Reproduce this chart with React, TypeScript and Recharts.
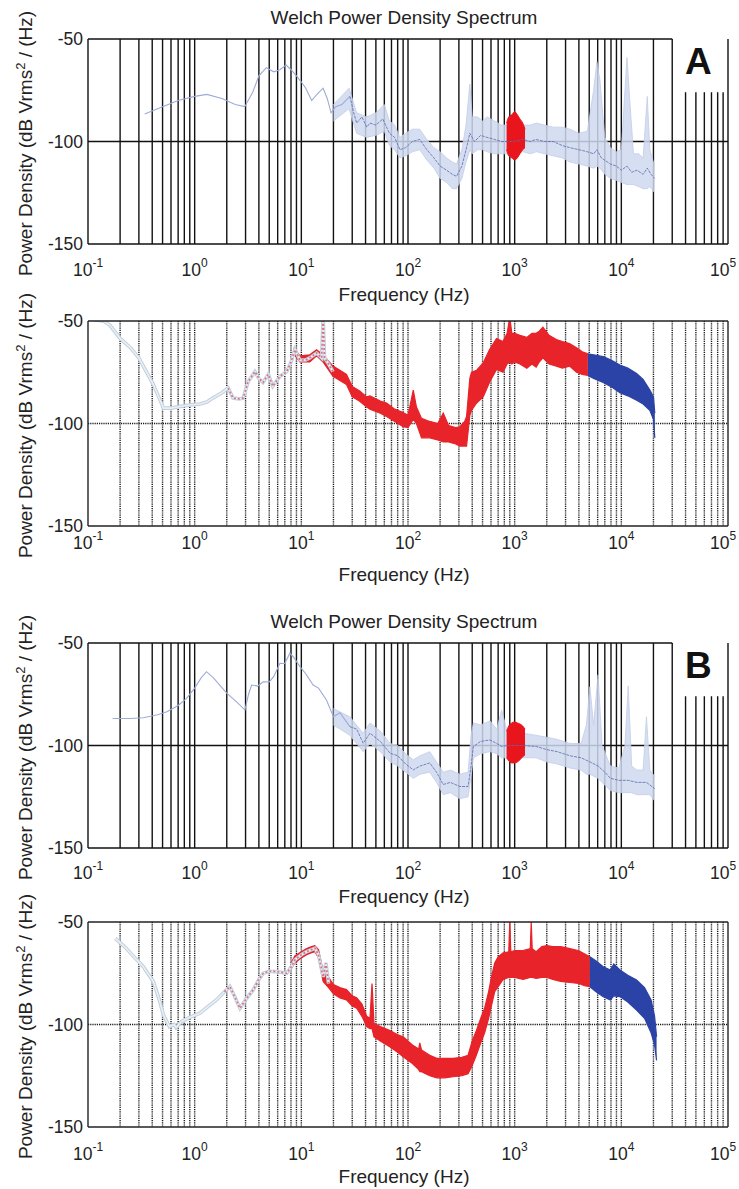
import React from "react";
import {
  ComposedChart,
  Line,
  Area,
  XAxis,
  YAxis,
  CartesianGrid,
  ReferenceLine,
  ReferenceArea,
  Label,
} from "recharts";

type Pt = [number, number];
type Band = [number, number, number];

const FONT = "'Liberation Sans', Arial, sans-serif";

// axis ticks
const decades = [0.1, 1, 10, 100, 1000, 10000, 100000];
const exponents = ["-1", "0", "1", "2", "3", "4", "5"];
const yTicks = [-150, -100, -50];
const multipliers = [1, 2, 3, 4, 5, 6, 7, 8, 9];

// panel A, Welch spectrum: trace [Hz, dB], spread band [Hz, low, high]
const aTopLine: Pt[] = [
  [0.34, -86.6], [0.5, -83], [0.7, -80], [1.0, -78], [1.3, -77], [1.8, -79],
  [2.4, -82], [2.95, -83], [3.5, -76], [4.0, -68], [4.7, -64], [5.5, -66],
  [6.3, -65], [7.2, -62.7], [8.0, -65], [9.0, -68], [10, -71], [11, -74],
  [12.5, -80], [14, -77], [16, -74], [17.5, -79], [19, -86], [21, -83],
  [24, -82], [28.5, -78], [31, -86], [33, -91], [37, -88], [41, -93],
  [44, -91], [50, -92], [58, -89], [67, -96], [75, -98], [84, -104],
  [95, -103], [110, -100], [129, -99], [150, -104], [175, -108], [200, -112],
  [230, -114], [260, -116], [285, -117], [320, -112], [350, -104], [380, -96],
  [420, -100], [480, -97], [550, -98], [650, -99], [750, -100], [850, -100],
  [1000, -100], [1200, -99], [1400, -100], [1580, -99], [1900, -100], [2300, -100],
  [2800, -102], [3300, -103], [4000, -104], [4800, -105], [5500, -106], [5900, -104],
  [6500, -108], [7900, -111], [9000, -112], [10000, -114], [11300, -112], [12500, -115],
  [14000, -114], [16000, -116], [17500, -113], [19000, -116], [20500, -118],
];
const aTopBand: Band[] = [
  [20, -90, -82], [28, -84, -74], [33, -96, -86], [41, -98, -88], [50, -97, -86],
  [60, -95, -82], [67, -102, -90], [75, -104, -92], [84, -108, -98], [95, -107, -96],
  [110, -105, -94], [129, -104, -94], [150, -109, -99], [175, -113, -103], [200, -118, -105],
  [230, -120, -108], [260, -123, -110], [285, -123, -111], [320, -118, -104], [350, -110, -92],
  [380, -104, -72], [400, -106, -88], [450, -104, -88], [500, -104, -90], [550, -105, -88],
  [650, -106, -90], [750, -106, -92], [850, -106, -92], [1000, -106, -94], [1200, -105, -92],
  [1400, -106, -92], [1600, -105, -91], [1900, -106, -92], [2300, -107, -93], [2800, -108, -93],
  [3300, -110, -94], [4000, -111, -96], [4800, -112, -95], [5500, -113, -75], [5900, -112, -61],
  [6300, -113, -70], [7000, -116, -98], [7900, -118, -103], [9000, -119, -105], [10000, -120, -104],
  [11300, -121, -59], [12000, -121, -80], [13000, -121, -106], [14500, -122, -106], [16000, -123, -108],
  [17500, -123, -78], [18500, -122, -104], [20500, -125, -112],
];
const aTopBlob: Band[] = [
  [840, -104, -91], [880, -107, -88], [940, -108, -87], [1000, -109, -85.5],
  [1060, -108, -87], [1120, -106, -89], [1190, -104, -91], [1250, -103, -94],
];

// panel A, detail
const aBotTrace: Pt[] = [
  [0.115, -49.5], [0.14, -50], [0.16, -52], [0.2, -58.5], [0.25, -63], [0.3, -68],
  [0.33, -72], [0.41, -81], [0.46, -87], [0.51, -92.5], [0.6, -92.5], [0.73, -91.7],
  [0.9, -91], [1.12, -90.5], [1.3, -89.5], [1.48, -87.6], [1.8, -85], [2.06, -82.7],
  [2.29, -87.6], [2.6, -88], [2.85, -87.6], [3.17, -79.6], [3.67, -74.7], [4.0, -78],
  [4.37, -80], [4.9, -76], [5.4, -81.8], [5.9, -79], [6.3, -77], [7.3, -74.7],
  [8.0, -70], [8.7, -64], [9.7, -69], [11, -69], [12, -68], [13.9, -65.6],
  [15.5, -68], [16, -48], [16.5, -68], [18, -71], [19.8, -74.7],
];
const aBotRed: Band[] = [
  [8.5, -66, -63], [9.7, -70, -67], [12, -70, -66.5], [13.9, -67, -64], [16, -70, -66.5],
  [19.8, -77, -72], [23, -79, -74], [26.5, -81, -76], [30, -87, -82], [35, -89, -84],
  [41, -92, -87], [44, -93, -86.5], [55, -95, -89], [63, -96.6, -90], [75, -99, -93],
  [90, -101.6, -94.6], [100, -102, -96], [112, -98, -83.7], [120, -100, -92], [134, -107, -97.5],
  [160, -107, -99], [190, -108, -100], [214, -109, -95], [240, -109, -101], [280, -110, -102],
  [306, -111, -101.6], [340, -111, -99], [354, -111, -96.6], [380, -96, -78], [394, -93.6, -75],
  [440, -90, -74], [507, -87, -70.5], [580, -80, -64], [676, -73.6, -58.5], [777, -75, -60],
  [850, -71, -56], [900, -70, -48], [940, -71, -56], [1000, -70, -56], [1120, -71, -57],
  [1300, -73, -58], [1450, -71, -56], [1590, -72.5, -56], [1700, -70, -55], [1840, -68, -53],
  [2100, -71, -57], [2460, -72, -59], [2800, -73, -60], [3270, -72, -61], [3800, -75, -63],
  [4300, -76, -65], [4860, -76.6, -66],
];
const aBotBlue: Band[] = [
  [4860, -76.6, -66], [5500, -78, -66.5], [6760, -80, -67.4], [8000, -82, -69],
  [9700, -85, -71.5], [11500, -86.5, -73], [13900, -88.7, -75.6], [16000, -90.5, -78.5],
  [18500, -93.6, -83.7], [20000, -98, -87], [20600, -107, -95],
];

// panel B, Welch spectrum
const bTopLine: Pt[] = [
  [0.17, -86.8], [0.25, -86.8], [0.33, -86.5], [0.45, -85], [0.55, -83.5], [0.7, -80.5],
  [0.84, -77], [1.0, -72], [1.15, -67], [1.29, -64], [1.5, -67], [1.75, -71],
  [2.0, -74.5], [2.5, -79], [2.96, -82.7], [3.2, -75], [3.42, -70.5], [3.9, -71],
  [4.4, -68.9], [5.0, -69], [5.5, -66.4], [6.3, -59.9], [7.0, -60], [7.8, -55],
  [8.5, -57], [9.7, -61.5], [11, -65], [12.9, -70.5], [14.5, -72], [17.2, -77.8],
  [20, -86], [23, -84], [28.5, -90.8], [33, -92], [38, -98.9], [44, -94],
  [55, -98], [68, -103.8], [80, -105], [95, -109], [112, -111.9], [130, -110],
  [160, -108.5], [185, -113], [214, -119], [250, -118], [306, -120], [366, -120],
  [390, -110], [410, -100.5], [480, -98], [586, -97.3], [680, -99], [755, -100.5],
  [850, -100], [1000, -100], [1200, -100], [1590, -100.5], [2000, -102], [2500, -103],
  [3300, -105], [4200, -106], [5070, -108], [6050, -110], [7000, -113], [7900, -116],
  [9500, -117], [11600, -117], [14000, -118], [17200, -118], [20500, -121],
];
const bTopBand: Band[] = [
  [20, -90, -82], [28.5, -95, -86], [38, -103, -94], [44, -99, -89], [55, -103, -93],
  [68, -108, -99], [80, -110, -100], [95, -113, -104], [112, -116, -107], [130, -114, -105],
  [160, -113, -103], [185, -118, -108], [214, -124, -113], [250, -123, -112], [306, -126, -114],
  [366, -125, -113], [390, -115, -95], [410, -106, -89], [480, -104, -90], [586, -103, -88],
  [680, -104, -92], [755, -106, -82.7], [850, -106, -93], [1000, -106, -93], [1200, -106, -94],
  [1590, -106, -95], [2000, -108, -96], [2500, -109, -97], [3300, -111, -99], [4200, -112, -99],
  [4700, -114, -90], [5070, -114, -71.3], [5500, -115, -90], [6050, -116, -65.5], [6600, -118, -100],
  [7900, -122, -110], [9500, -123, -111], [10800, -123, -100], [11600, -123, -71], [12500, -123, -110],
  [14000, -124, -112], [16000, -124, -112], [17200, -124, -86], [18500, -124, -112], [20500, -127, -115],
];
const bTopBlob: Band[] = [
  [840, -106, -93], [880, -107.5, -90.5], [940, -108.5, -89], [1000, -108.5, -88.5],
  [1060, -108, -89], [1120, -107, -89.5], [1190, -105.5, -90.5], [1250, -104.5, -92],
];

// panel B, detail
const bBotTrace: Pt[] = [
  [0.18, -58], [0.22, -62], [0.27, -67], [0.33, -71.8], [0.41, -79.1], [0.46, -87],
  [0.51, -95.4], [0.58, -101], [0.64, -100], [0.67, -101.5], [0.75, -98.6], [0.9, -96.5],
  [1.12, -94.5], [1.35, -91], [1.6, -88], [1.9, -84], [2.14, -81.5], [2.4, -87],
  [2.66, -92.1], [3.0, -88], [3.55, -83], [4.0, -78], [4.4, -75], [5.0, -74],
  [5.9, -74.2], [7.3, -75], [8.0, -72], [8.7, -68.5], [10, -66], [11.2, -64.5],
  [13.4, -62.8], [14.5, -66], [16, -76.8], [17, -70], [18, -80],
];
const bBotRed: Band[] = [
  [8.0, -73, -70], [8.7, -70, -66.5], [10, -67.5, -64.5], [11.2, -66, -63], [12.5, -65, -62],
  [13.4, -64.5, -61.5], [14.5, -67.5, -63.5], [16, -79, -74], [18, -82, -77], [20, -85, -80.5],
  [23, -87, -82], [26.5, -88, -83], [30, -91, -86], [33, -92, -87], [37, -96, -90],
  [41, -101, -96], [44, -102, -97], [46, -102, -80], [48, -106, -99.5], [55, -108, -101],
  [68, -111, -103], [80, -113.5, -105], [90, -115.7, -106], [110, -119, -110], [126, -122, -112],
  [129, -123, -109], [134, -123, -112.5], [160, -125, -115], [186, -126, -116.5], [220, -126, -116.5],
  [265, -125.5, -116.5], [320, -125, -116], [366, -124, -115], [400, -120, -108], [437, -115, -103],
  [480, -109, -97], [523, -104, -92], [570, -97, -84], [605, -91, -77], [650, -84, -70],
  [700, -81.6, -67], [780, -78, -65], [880, -77, -64.5], [900, -77, -50], [920, -77, -64.5],
  [1000, -77, -64], [1200, -78, -64], [1400, -77, -63], [1430, -77, -50], [1460, -77, -63],
  [1590, -77.5, -64.5], [1800, -77, -62], [2000, -77, -61.5], [2280, -78, -62], [2700, -79, -62],
  [3300, -79.5, -63], [4000, -80, -64], [4500, -81, -65.5], [5070, -81.6, -67],
];
const bBotBlue: Band[] = [
  [5070, -81.6, -67], [5800, -84, -69], [6760, -86.4, -71.8], [7900, -88, -73.4],
  [8500, -86, -70.5], [9700, -86.4, -73.4], [11500, -89, -76], [13900, -93, -78.3],
  [16500, -97, -82], [19000, -104, -88], [20500, -110, -96], [21400, -117.5, -106],
];

const gridFreqs = decades
  .slice(0, 6)
  .flatMap((d) => multipliers.map((m) => m * d))
  .filter((f) => f > 0.1);

const pts = (p: Pt[]) => p.map(([f, v]) => ({ f, v }));
const band = (b: Band[]) => b.map(([f, lo, hi]) => ({ f, r: [lo, hi] }));

const makeXTick = (gap: number) => (props: any) => {
  const { x, y, payload } = props;
  const i = decades.indexOf(payload.value);
  // the last label sits on the page edge, pull it in a little
  const shift = i === decades.length - 1 ? -5 : 0;
  return (
    <text x={x + shift} y={y + gap} textAnchor="middle" fontSize={17.5} fill="#222" fontFamily={FONT}>
      10
      <tspan dy={-9} fontSize={12}>
        {exponents[i]}
      </tspan>
    </text>
  );
};

const makeXLabel = (gap: number) => (props: any) => {
  const vb = props.viewBox;
  return (
    <text x={404} y={vb.y + gap} textAnchor="middle" fontSize={19} fill="#222" fontFamily={FONT}>
      Frequency (Hz)
    </text>
  );
};

const yLabel = (props: any) => {
  const vb = props.viewBox;
  const cy = vb.y + vb.height / 2 + 2;
  return (
    <text
      transform={`rotate(-90 32 ${cy})`}
      x={32}
      y={cy}
      textAnchor="middle"
      fontSize={19}
      fill="#222"
      fontFamily={FONT}
    >
      Power Density (dB Vrms
      <tspan dy={-7} fontSize={13}>
        2
      </tspan>
      <tspan dy={7}> / (Hz)</tspan>
    </text>
  );
};

const makeLetter = (letter: string) => (props: any) => {
  const vb = props.viewBox;
  return (
    <text
      x={vb.x + vb.width / 2 - 3}
      y={vb.y + 35}
      textAnchor="middle"
      fontSize={37}
      fontWeight="bold"
      fill="#111"
      fontFamily={FONT}
    >
      {letter}
    </text>
  );
};

interface PanelProps {
  plotTop: number;
  tickGap: number;
  labelGap: number;
  welch: boolean;
  letter?: string;
  line?: Pt[];
  spread?: Band[];
  blob?: Band[];
  trace?: Pt[];
  red?: Band[];
  blue?: Band[];
}

function Panel(p: PanelProps) {
  const frame = p.welch ? "#111" : "#222";
  const lowLine = p.line ? p.line.filter(([f]) => f <= 30) : [];
  const highLine = p.line ? p.line.filter(([f]) => f >= 28) : [];
  const pinkPart = p.trace ? p.trace.filter(([f]) => f >= 1.9) : [];
  return (
    <div style={{ position: "absolute", left: 0, top: p.plotTop - 39 }}>
      <ComposedChart
        width={739}
        height={306}
        margin={{ top: 39, right: 11, bottom: 0, left: 28 }}
      >
        <CartesianGrid
          verticalValues={gridFreqs}
          horizontalValues={[-100]}
          stroke={p.welch ? "#111" : "#1a1a1a"}
          strokeWidth={p.welch ? 1.4 : 1.4}
          strokeDasharray={p.welch ? undefined : "1.2 1"}
        />
        <XAxis
          type="number"
          dataKey="f"
          scale="log"
          domain={[0.1, 100000]}
          allowDataOverflow
          ticks={decades}
          interval={0}
          axisLine={false}
          tickLine={false}
          tickSize={0}
          tickMargin={0}
          height={62}
          tick={makeXTick(p.tickGap)}
        >
          <Label content={makeXLabel(p.labelGap)} />
        </XAxis>
        <YAxis
          type="number"
          domain={[-150, -50]}
          allowDataOverflow
          ticks={yTicks}
          interval={0}
          width={60}
          axisLine={false}
          tickLine={false}
          tickSize={0}
          tickMargin={5}
          tick={{ fontSize: 17.5, fill: "#222", fontFamily: FONT }}
        >
          <Label content={yLabel} />
        </YAxis>

        {p.letter && (
          <ReferenceArea
            x1={31500}
            x2={100000}
            y1={-76}
            y2={-50}
            fill="#ffffff"
            fillOpacity={1}
            stroke="none"
            ifOverflow="visible"
            label={makeLetter(p.letter)}
          />
        )}

        {p.spread && (
          <Area
            data={band(p.spread)}
            dataKey="r"
            type="linear"
            stroke="#c3cde8"
            strokeWidth={0.8}
            fill="#cfd8ee"
            fillOpacity={0.85}
            isAnimationActive={false}
          />
        )}
        {p.line && (
          <Line
            data={pts(lowLine)}
            dataKey="v"
            type="linear"
            stroke="#9dabd7"
            strokeWidth={1.1}
            dot={false}
            isAnimationActive={false}
          />
        )}
        {p.line && (
          <Line
            data={pts(highLine)}
            dataKey="v"
            type="linear"
            stroke="#5a6aab"
            strokeWidth={0.8}
            strokeDasharray="3 1"
            dot={false}
            isAnimationActive={false}
          />
        )}
        {p.blob && (
          <Area
            data={band(p.blob)}
            dataKey="r"
            type="monotone"
            stroke="#e8161c"
            strokeWidth={1}
            fill="#e8161c"
            fillOpacity={1}
            isAnimationActive={false}
          />
        )}

        {p.trace && (
          <Line
            data={pts(p.trace)}
            dataKey="v"
            type="linear"
            stroke="#bed0e2"
            strokeWidth={3.6}
            dot={false}
            isAnimationActive={false}
          />
        )}
        {p.trace && (
          <Line
            data={pts(p.trace)}
            dataKey="v"
            type="linear"
            stroke="#eceef0"
            strokeWidth={1.6}
            dot={false}
            isAnimationActive={false}
          />
        )}
        {p.trace && (
          <Line
            data={pts(pinkPart)}
            dataKey="v"
            type="linear"
            stroke="#cf4c62"
            strokeWidth={1.6}
            strokeDasharray="2 2"
            strokeOpacity={0.75}
            dot={false}
            isAnimationActive={false}
          />
        )}
        {p.red && (
          <Area
            data={band(p.red)}
            dataKey="r"
            type="linear"
            stroke="#e8232a"
            strokeWidth={1.2}
            fill="#e8232a"
            fillOpacity={1}
            isAnimationActive={false}
          />
        )}
        {p.blue && (
          <Area
            data={band(p.blue)}
            dataKey="r"
            type="linear"
            stroke="#2b43a6"
            strokeWidth={1.2}
            fill="#2b43a6"
            fillOpacity={1}
            isAnimationActive={false}
          />
        )}

        <ReferenceLine x={0.1} stroke={frame} strokeWidth={1.4} ifOverflow="visible" />
        <ReferenceLine x={100000} stroke={frame} strokeWidth={1.4} ifOverflow="visible" />
        <ReferenceLine y={-150} stroke={frame} strokeWidth={1.4} ifOverflow="visible" />
        <ReferenceLine
          segment={[
            { x: 0.1, y: -50 },
            { x: p.letter ? 30000 : 100000, y: -50 },
          ]}
          stroke={frame}
          strokeWidth={1.4}
          ifOverflow="visible"
        />
      </ComposedChart>
    </div>
  );
}

const titleStyle = (top: number): React.CSSProperties => ({
  position: "absolute",
  left: 0,
  top,
  width: 808,
  textAlign: "center",
  fontSize: 19,
  lineHeight: "19px",
  color: "#222",
  fontFamily: FONT,
});

export default function App() {
  return (
    <div
      style={{
        position: "absolute",
        left: 0,
        top: 0,
        width: 739,
        height: 1189,
        background: "#fff",
        overflow: "hidden",
      }}
    >
      <div style={titleStyle(8)}>Welch Power Density Spectrum</div>
      <div style={titleStyle(612)}>Welch Power Density Spectrum</div>
      <Panel plotTop={39} tickGap={32} labelGap={57} welch letter="A" line={aTopLine} spread={aTopBand} blob={aTopBlob} />
      <Panel plotTop={321} tickGap={23} labelGap={55} welch={false} trace={aBotTrace} red={aBotRed} blue={aBotBlue} />
      <Panel plotTop={643} tickGap={31} labelGap={55} welch letter="B" line={bTopLine} spread={bTopBand} blob={bTopBlob} />
      <Panel plotTop={922} tickGap={33} labelGap={56} welch={false} trace={bBotTrace} red={bBotRed} blue={bBotBlue} />
    </div>
  );
}
